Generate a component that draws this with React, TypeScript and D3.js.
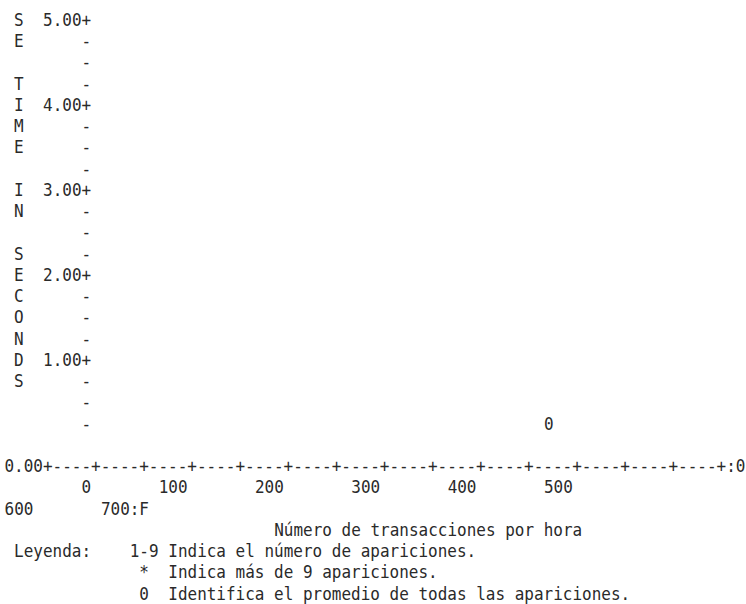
import React from "react";
import * as d3 from "d3";

// ---- data ----
const yAxisTitle = "SE TIME IN SECONDS";
const yMajorTicks = [5, 4, 3, 2, 1];
const yTickStep = 0.25;
const xTickValues = [0, 100, 200, 300, 400, 500, 600, 700];
const xAxisSegments = 14;
const xAxisEndLabel = ":0";
const xTickEndLabel = ":F";
const meanPoints = [{ tx: 480, sec: 0.25, mark: "0" }];
const xAxisTitle = "Número de transacciones por hora";
const legendTitle = "Leyenda:";
const legendItems = [
  { sym: "1-9", text: "Indica el número de apariciones." },
  { sym: "*", text: "Indica más de 9 apariciones." },
  { sym: "0", text: "Identifica el promedio de todas las apariciones." },
];

// ---- layout ----
const W = 746;
const H = 604;
const FONT = "'DejaVu Sans Mono', monospace";
const FS = 17.5;
const CW = 9.633; // char advance on screen
const SX = CW / (FS * 0.6021); // horizontal condensing of the glyphs
const X0 = 4.5;
const ROW0 = 26;
const ROWH = 21.25;
const WRAP = 66;

export default function App() {
  const col = d3.scaleLinear().domain([0, 1]).range([X0, X0 + CW]);
  const row = d3.scaleLinear().domain([0, 1]).range([ROW0, ROW0 + ROWH]);
  // value (seconds) -> row index
  const yScale = d3.scaleLinear().domain([5, 0]).range([0, 20]);
  // transactions -> column index
  const xScale = d3.scaleLinear().domain([0, 100]).range([8, 18]);

  const minor = d3
    .range(yTickStep, 5 + 1e-9, yTickStep)
    .filter((v) => !yMajorTicks.some((m) => Math.abs(m - v) < 1e-9));

  const axisRow = yScale(0) + 1;
  const tickRow = axisRow + 1;
  const titleRow = tickRow + 2;
  const legendRow = titleRow + 1;

  const axisStr = "0.00" + "+----".repeat(xAxisSegments) + "+" + xAxisEndLabel;

  const txt = (key: string, c: number, r: number, s: string, anchor = "start") => (
    <text
      key={key}
      x={col(c) / SX}
      y={row(r)}
      textAnchor={anchor}
      style={{ whiteSpace: "pre" }}
    >
      {s}
    </text>
  );

  const els: React.ReactNode[] = [];
  // vertical title
  yAxisTitle.split("").forEach((ch, i) => {
    if (ch !== " ") els.push(txt("t" + i, 1, i, ch));
  });
  // major y ticks
  yMajorTicks.forEach((v) => {
    els.push(txt("ym" + v, 9, yScale(v), v.toFixed(2) + "+", "end"));
  });
  minor.forEach((v) => {
    els.push(txt("yn" + v, 8, yScale(v), "-"));
  });
  // x axis line
  els.push(txt("axis", 0, axisRow, axisStr));
  // x tick labels (wrapped like the original listing)
  xTickValues.forEach((v, i) => {
    let end = xScale(v) + 1;
    let r = tickRow;
    if (end > WRAP) {
      end -= WRAP;
      r += 1;
    }
    const last = i === xTickValues.length - 1;
    const label = String(v) + (last ? xTickEndLabel : "");
    const extra = last ? xTickEndLabel.length : 0;
    els.push(txt("xt" + v, end + extra, r, label, "end"));
  });
  // mean marker
  meanPoints.forEach((p, i) => {
    els.push(txt("mp" + i, xScale(p.tx), yScale(p.sec), p.mark));
  });
  // axis title
  els.push(txt("xtitle", 28, titleRow, xAxisTitle));
  // legend
  els.push(txt("lt", 1, legendRow, legendTitle));
  legendItems.forEach((it, i) => {
    els.push(txt("ls" + i, 14.5, legendRow + i, it.sym, "middle"));
    els.push(txt("lx" + i, 17, legendRow + i, it.text));
  });

  return (
    <div style={{ position: "absolute", left: 0, top: 0 }}>
      <svg width={W} height={H} style={{ display: "block", background: "#fff" }}>
        <g
          transform={`scale(${SX},1)`}
          fontFamily={FONT}
          fontSize={FS}
          fill="#2a2a2a"
        >
          {els}
        </g>
      </svg>
    </div>
  );
}
